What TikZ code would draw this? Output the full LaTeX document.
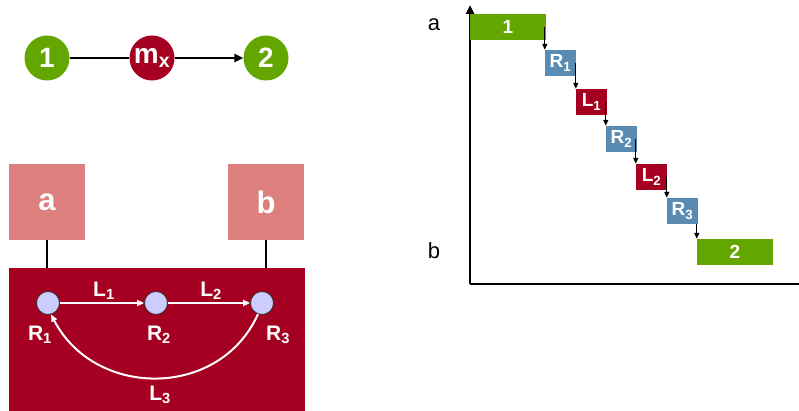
\documentclass[tikz,border=0pt]{standalone}
\usepackage{fontspec}
\setmainfont{Liberation Sans}
\usepackage{xcolor}
\usepackage{tikz}
\usetikzlibrary{arrows.meta}
\definecolor{grn}{HTML}{63A600}
\definecolor{dred}{HTML}{A50021}
\definecolor{rose}{HTML}{DC7F7D}
\definecolor{steel}{HTML}{5A8BB2}
\definecolor{lav}{HTML}{CCCCFF}
\tikzset{
  st/.style={circle,fill=#1,minimum size=45pt,inner sep=0pt,text=white,font=\bfseries\fontsize{28}{28}\selectfont},
  site/.style={fill=rose,minimum size=76pt,inner sep=0pt,text=white,font=\bfseries\fontsize{31}{31}\selectfont},
  ads/.style={circle,fill=lav,draw=black!80,line width=0.8pt,minimum size=23pt,inner sep=0pt},
  wl/.style={white,line width=2pt,-{Triangle[length=7pt,width=6pt]}},
  wt/.style={text=white,font=\bfseries\fontsize{21}{21}\selectfont},
  bk/.style={black,line width=2.5pt},
  stp/.style={fill=#1,minimum width=31pt,minimum height=26pt,inner sep=0pt,text=white,font=\bfseries\fontsize{19}{19}\selectfont},
  bar/.style={stp=grn,minimum width=76pt},
  dn/.style={black,line width=1.3pt,-{Triangle[length=6pt,width=5pt]}},
  ax/.style={black,line width=2.5pt},
  axl/.style={font=\fontsize{22}{22}\selectfont}
}
\newcommand{\sub}[2]{#1\textsubscript{#2}}

\begin{document}
\begin{tikzpicture}[x=1pt,y=-1pt]
\useasboundingbox (0,0) rectangle (799,411);
% overall reaction
\node[st=grn] (s1) at (47,58) {1};
\node[st=dred] (mx) at (152,58) {\sub{m}{x}};
\node[st=grn] (s2) at (266,58) {2};
\draw[bk] (s1) -- (mx); \draw[bk,-{Triangle[length=9pt,width=8pt]}] (mx) -- (s2);
% electrode sites and channel
\node[site] (a) at (47,202) {a};
\node[site] (b) at (266,202) {b};
\node[fill=dred,minimum width=296pt,minimum height=143pt,inner sep=0pt] (cell) at (157,339.5) {};
\draw[bk] (a) -- (a |- cell.north); \draw[bk] (b) -- (b |- cell.north);
\node[ads] (r1) at (48,303) {};
\node[ads] (r2) at (156,303) {};
\node[ads] (r3) at (262,303) {};
\draw[wl] (r1) -- (r2); \node[wt] (l1) at (104,291) {\sub{L}{1}};
\draw[wl] (r2) -- (r3); \node[wt] (l2) at (211,291) {\sub{L}{2}};
\draw[wl] (r3.250) .. controls (220,399) and (95,399) .. (r1.285); \node[wt] (l3) at (160,395) {\sub{L}{3}};
\node[wt] (n1) at (40,335) {\sub{R}{1}};
\node[wt] (n2) at (159,335) {\sub{R}{2}};
\node[wt] (n3) at (278,335) {\sub{R}{3}};
% hopping sequence
\coordinate (o) at (470,284); \coordinate (ytop) at (470,5); \coordinate (xend) at (799,284);
\draw[ax,-{Triangle[length=9pt,width=8pt]}] (o) -- (ytop); \draw[ax] (o) -- (xend);
\node[axl] (ya) at (434,25) {a};
\node[axl] (yb) at (434,251) {b};
\node[bar] (t1) at (508,27) {1};
\node[stp=steel] (t2) at (560.5,63) {\sub{R}{1}};
\node[stp=dred] (t3) at (591.5,102) {\sub{L}{1}};
\node[stp=steel] (t4) at (621.5,139) {\sub{R}{2}};
\node[stp=dred] (t5) at (651.5,177) {\sub{L}{2}};
\node[stp=steel] (t6) at (682.5,211) {\sub{R}{3}};
\node[bar] (t7) at (735,252) {2};
\foreach \i/\j in {1/2,2/3,3/4,4/5,5/6} \draw[dn] (t\j.north west |- t\i.east) -- (t\j.north west);
\draw[dn] (t7.north west |- t6.south) -- (t7.north west);
\end{tikzpicture}
\end{document}
